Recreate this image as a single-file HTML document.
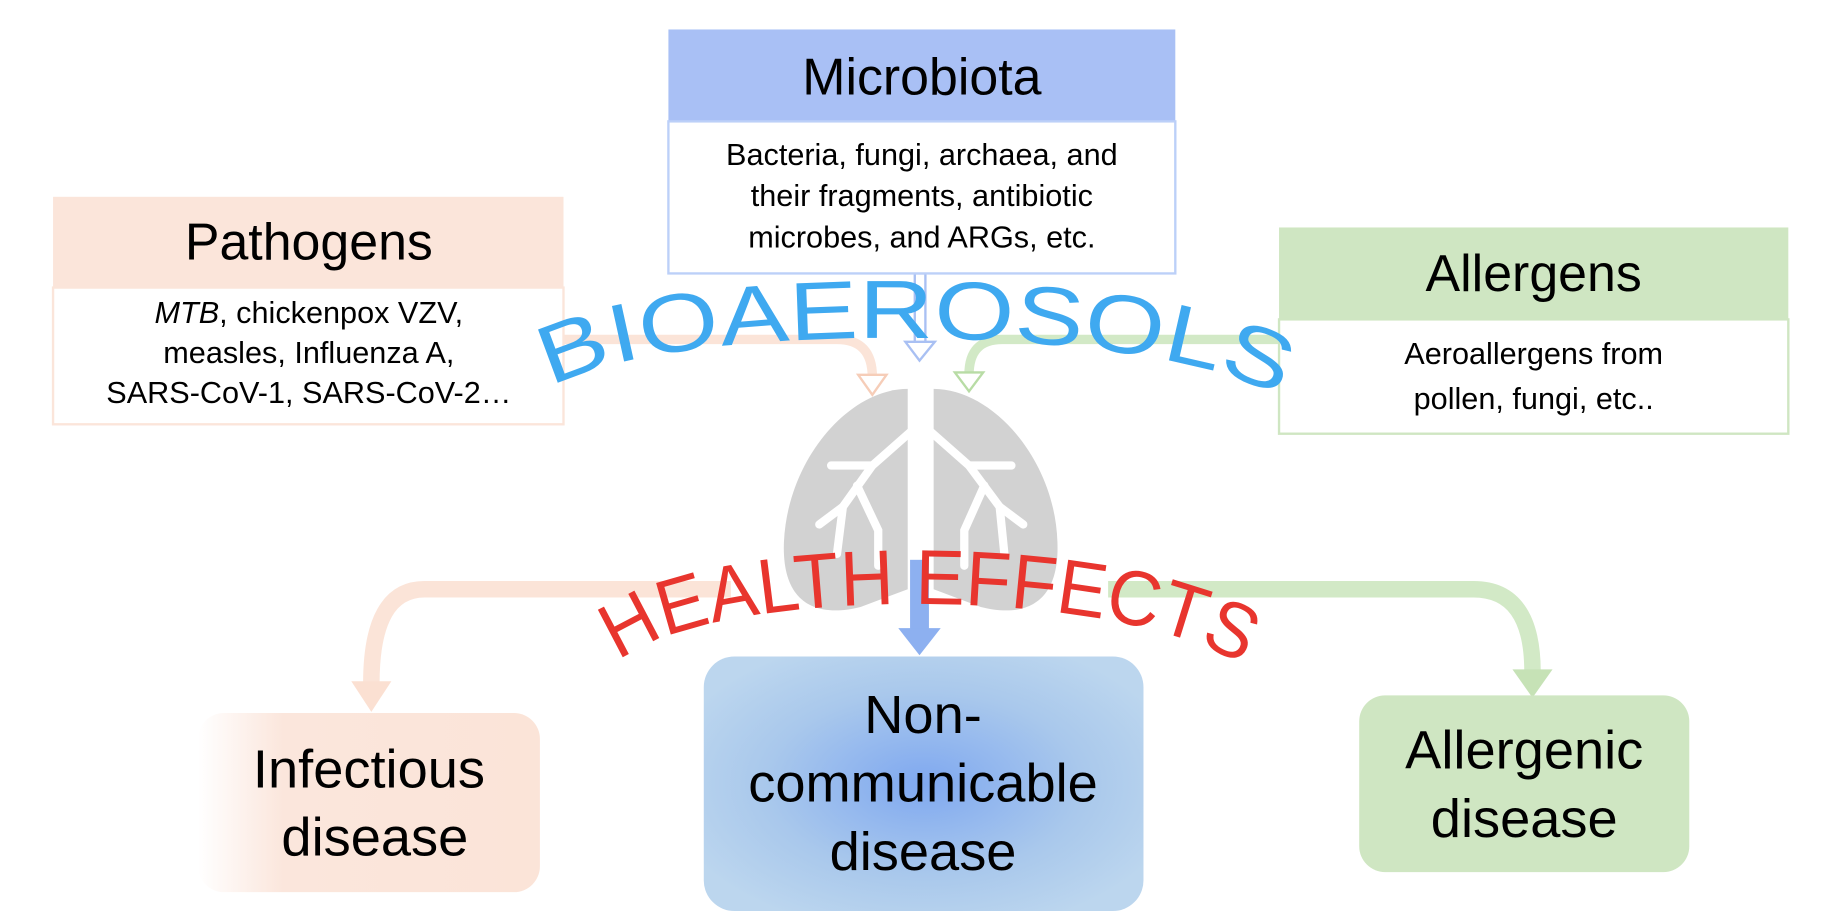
<!DOCTYPE html>
<html><head><meta charset="utf-8"><style>
html,body{margin:0;padding:0;background:#fff;}
svg{display:block;}
text{font-family:"Liberation Sans",sans-serif;}
</style></head><body>
<svg width="1839" height="924" viewBox="0 0 1560 784" preserveAspectRatio="none" xmlns="http://www.w3.org/2000/svg">
<defs>
<radialGradient id="nc" cx="50%" cy="50%" r="60%">
<stop offset="0" stop-color="#7fa8f0"/><stop offset="0.6" stop-color="#a9c8ec"/><stop offset="1" stop-color="#bcd6ee"/>
</radialGradient>
<linearGradient id="inf" x1="0" x2="1"><stop offset="0" stop-color="#fff"/><stop offset="0.25" stop-color="#fbe6dc"/><stop offset="1" stop-color="#fbe4d8"/></linearGradient>
<path id="bio" d="M468,330 C550,270 1010,270 1095,345"/>
<path id="he" d="M525,562 C600,495 960,495 1058,568"/>
</defs>

<!-- lungs -->
<g>
<path d="M770,330 C720,330 668,390 665,460 C663,510 690,525 730,515 L770,500 Z" fill="#d2d2d2"/>
<path d="M792,330 C842,330 895,390 897,460 C899,510 872,525 832,515 L792,500 Z" fill="#d2d2d2"/>
<g stroke="#fff" stroke-width="7" fill="none" stroke-linecap="round">
<path d="M774,310 L774,365 L740,395 L715,430 L710,470"/>
<path d="M788,310 L788,365 L822,395 L848,430 L852,470"/>
<path d="M740,395 L705,395"/><path d="M727,412 L745,450 L745,480"/>
<path d="M822,395 L858,395"/><path d="M835,412 L818,450 L818,480"/>
<path d="M715,430 L695,445"/><path d="M848,430 L868,445"/>
</g>
</g>

<!-- top connectors -->
<path d="M478,288 L710,288 Q740,288 740,320" stroke="#fbe4d8" stroke-width="8" fill="none"/>
<polygon points="728,318 752,318 740,335" fill="#fff" stroke="#f6cdb8" stroke-width="2"/>
<path d="M1085,288 L850,288 Q822,288 822,318" stroke="#d2e9c6" stroke-width="8" fill="none"/>
<polygon points="810,316 834,316 822,332" fill="#fff" stroke="#b8dca5" stroke-width="2"/>
<rect x="776" y="232" width="9" height="60" fill="#fff" stroke="#a9c0f3" stroke-width="2"/>
<polygon points="768,290 793,290 780,306" fill="#fff" stroke="#a9c0f3" stroke-width="2"/>

<!-- bottom connectors -->
<path d="M620,500 L360,500 Q315,500 315,580" stroke="#fbe4d8" stroke-width="14" fill="none"/>
<polygon points="298,578 332,578 315,604" fill="#fbe0d2"/>
<path d="M940,500 L1250,500 Q1300,500 1300,570" stroke="#d2e9c6" stroke-width="14" fill="none"/>
<polygon points="1283,568 1317,568 1300,592" fill="#c6e2b6"/>
<rect x="772" y="475" width="16" height="60" fill="#8db0f0"/>
<polygon points="762,533 798,533 780,556" fill="#8db0f0"/>

<!-- Microbiota -->
<rect x="567" y="25" width="430" height="78" fill="#a9c0f5"/>
<rect x="567" y="103" width="430" height="129" fill="#fff" stroke="#bcd0f8" stroke-width="2"/>
<text x="782" y="80" font-size="44" text-anchor="middle">Microbiota</text>
<text x="782" y="140" font-size="26" text-anchor="middle">Bacteria, fungi, archaea, and</text>
<text x="782" y="175" font-size="26" text-anchor="middle">their fragments, antibiotic</text>
<text x="782" y="210" font-size="26" text-anchor="middle">microbes, and ARGs,  etc.</text>

<!-- Pathogens -->
<rect x="45" y="167" width="433" height="77" fill="#fbe5da"/>
<rect x="45" y="244" width="433" height="116" fill="#fff" stroke="#fbe5da" stroke-width="2"/>
<text x="262" y="220" font-size="44" text-anchor="middle">Pathogens</text>
<text x="262" y="274" font-size="26" text-anchor="middle"><tspan font-style="italic">MTB</tspan>, chickenpox VZV,</text>
<text x="262" y="308" font-size="26" text-anchor="middle">measles, Influenza A,</text>
<text x="262" y="342" font-size="26" text-anchor="middle">SARS-CoV-1, SARS-CoV-2…</text>

<!-- Allergens -->
<rect x="1085" y="193" width="432" height="78" fill="#cfe6c2"/>
<rect x="1085" y="271" width="432" height="97" fill="#fff" stroke="#cfe6c2" stroke-width="2"/>
<text x="1301" y="247" font-size="44" text-anchor="middle">Allergens</text>
<text x="1301" y="309" font-size="26" text-anchor="middle">Aeroallergens from</text>
<text x="1301" y="347" font-size="26" text-anchor="middle">pollen, fungi, etc..</text>

<!-- arc texts -->
<text font-size="70" fill="#3fa9f0"><textPath href="#bio" textLength="630" lengthAdjust="spacingAndGlyphs">BIOAEROSOLS</textPath></text>
<text font-size="66" fill="#e8352e"><textPath href="#he" textLength="545" lengthAdjust="spacingAndGlyphs">HEALTH EFFECTS</textPath></text>

<!-- disease boxes -->
<rect x="168" y="605" width="290" height="152" rx="22" fill="url(#inf)"/>
<text x="313" y="668" font-size="46" text-anchor="middle">Infectious</text>
<text x="318" y="726" font-size="46" text-anchor="middle">disease</text>

<rect x="597" y="557" width="373" height="216" rx="26" fill="url(#nc)"/>
<text x="783" y="622" font-size="46" text-anchor="middle">Non-</text>
<text x="783" y="680" font-size="46" text-anchor="middle">communicable</text>
<text x="783" y="738" font-size="46" text-anchor="middle">disease</text>

<rect x="1153" y="590" width="280" height="150" rx="22" fill="#cfe6c2"/>
<text x="1293" y="652" font-size="46" text-anchor="middle">Allergenic</text>
<text x="1293" y="710" font-size="46" text-anchor="middle">disease</text>
</svg>
</body></html>
